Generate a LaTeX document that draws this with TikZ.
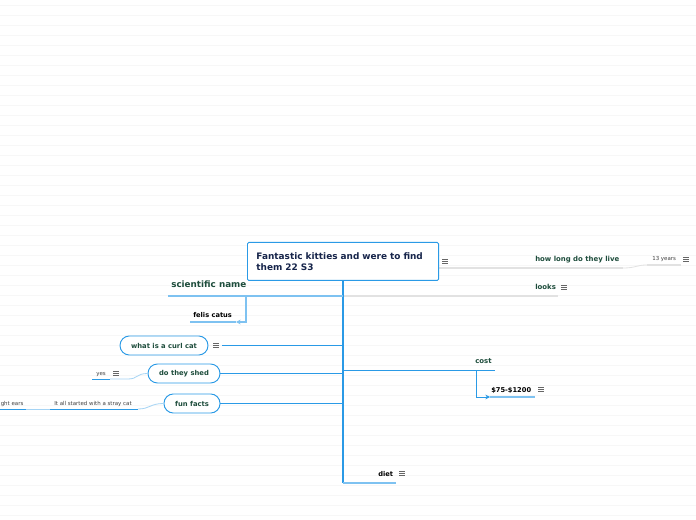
\documentclass[tikz,border=0pt]{standalone}
\usepackage{fontspec}
\setmainfont{DejaVu Sans}
\usetikzlibrary{arrows.meta,positioning,calc}
\definecolor{mmBlue}{HTML}{2A9AE6}
\definecolor{mmLight}{HTML}{7EC2F1}
\definecolor{mmGray}{HTML}{E2E2E2}
\definecolor{mmGreen}{HTML}{1E4D3C}
\definecolor{mmNavy}{HTML}{16244A}
\tikzset{menuicon/.pic={\foreach \k in {-2,0,2} {\draw[black!60, line width=0.45pt] (-2.6,\k) -- (2.6,\k);}}}

\begin{document}
\begin{tikzpicture}[x=0.75pt, y=-0.75pt, every node/.style={inner sep=0pt},
  rootbox/.style={draw=mmBlue, line width=0.7pt, fill=white, rounded corners=1pt, anchor=north west,
    text width=129.8pt, inner xsep=6.75pt, minimum height=28.5pt, align=left,
    font=\fontsize{6.7}{8.25}\selectfont\bfseries, text=mmNavy},
  lbl/.style={anchor=base west, font=\fontsize{5.2}{6}\selectfont\bfseries, text=mmGreen},
  sub/.style={anchor=base west, font=\fontsize{5}{6}\selectfont\bfseries, text=black},
  note/.style={anchor=base west, font=\fontsize{4.1}{5}\selectfont, text=black!75},
  pill/.style={draw=mmBlue, line width=0.7pt, fill=white, rounded corners=7pt, minimum height=14.25pt,
    inner xsep=8.3pt, font=\fontsize{5.1}{6}\selectfont\bfseries, text=mmGreen},
  spine/.style={draw=mmBlue, line width=1.2pt},
  limb/.style={draw=mmBlue, line width=0.6pt},
  twig/.style={draw=mmLight, line width=1.2pt},
  leaf/.style={draw=mmLight!70, line width=0.6pt},
  greyline/.style={draw=mmGray, line width=1.3pt},
  tip/.style={-{Stealth[length=3.5pt,width=3.5pt]}}]
  \useasboundingbox (0,0) rectangle (696,520);
  \fill[white] (0,0) rectangle (696,520);
  \foreach \r in {5,15,...,515} {\draw[black!3, line width=0.6pt] (0,\r) -- (696,\r);}

  % grey branches to the right
  \coordinate (liveR) at (623,268);
  \coordinate (yrsL) at (647,265);
  \coordinate (yrsR) at (681,265);
  \coordinate (looksL) at (343,296);
  \coordinate (looksR) at (558,296);
  \draw[greyline] (438,268) -- (liveR);
  \draw[draw=mmGray, line width=0.6pt] (liveR) .. controls (636,268) and (636,265) .. (yrsL);
  \draw[greyline] (yrsL) -- (yrsR);
  \draw[greyline] (looksL) -- (looksR);

  \node[rootbox] (root) at (247,242) {Fantastic kitties and were to find\\them 22 S3};

  % spine
  \coordinate (spineEnd) at (root.south |- 0,483);
  \coordinate (dietR) at (396,483);
  \draw[spine] (root.south) -- (spineEnd);
  \draw[twig] (spineEnd) -- (dietR);

  % scientific name
  \coordinate (sciL) at (168,296);
  \coordinate (sciDrop) at (246,296);
  \coordinate (felisL) at (190,322);
  \coordinate (felisTip) at (236,322);
  \draw[twig] (sciL) -- (root.south |- sciL);
  \draw[twig] (felisL) -- (felisTip);
  \draw[twig, tip] (sciDrop) |- (felisTip);

  % cost
  \coordinate (costR) at (495,370.5);
  \coordinate (costDrop) at (476,370.5);
  \coordinate (priceTip) at (490,397);
  \coordinate (priceR) at (535,397);
  \draw[limb] (root.south |- costR) -- (costR);
  \draw[twig] (priceTip) -- (priceR);
  \draw[limb, tip] (costDrop) |- (priceTip);

  % pills on the left
  \node[pill] (curl) at (164,345.5) {what is a curl cat};
  \node[pill] (shed) at (184,373.5) {do they shed};
  \node[pill] (fun) at (192,403.5) {fun facts};
  \coordinate (curlMenuR) at (222,345.5);
  \draw[limb] (curlMenuR) -- (root.south |- curlMenuR);
  \draw[limb] (shed.east) -- (root.south |- shed.east);
  \draw[limb] (fun.east) -- (root.south |- fun.east);

  \coordinate (yesL) at (92,379);
  \coordinate (yesR) at (110,379);
  \coordinate (strayL) at (50,409);
  \coordinate (strayR) at (138,409);
  \coordinate (earsR) at (26,409);
  \draw[limb] (yesL) -- (yesR);
  \draw[leaf] (yesR) -- (128,379) .. controls (138,379) and (136,373.5) .. (shed.west);
  \draw[limb] (strayL) -- (strayR);
  \draw[leaf] (strayR) .. controls (150,409) and (150,403.5) .. (fun.west);
  \draw[limb] (0,409) -- (earsR);
  \draw[leaf] (earsR) -- (strayL);

  % texts
  \node[lbl] (live) at (535,262) {how long do they live};
  \node[note] (years) at (652,261) {13 years};
  \node[lbl] (looks) at (535,290) {looks};
  \node[lbl, font=\fontsize{6.6}{7}\selectfont\bfseries] (sci) at (171,288) {scientific name};
  \node[sub] (felis) at (193,318) {felis catus};
  \node[lbl] (cost) at (475,363) {cost};
  \node[sub] (price) at (491,392) {\$75-\$1200};
  \node[sub] (diet) at (378,476) {diet};
  \node[note] (yes) at (96,375) {yes};
  \node[note] (stray) at (54,405) {It all started with a stray cat};
  \node[note] (ears) at (0.5,405) {ght ears};

  \foreach \x/\y in {445/261, 686/259, 564/287, 216/345.5, 116/373, 541/389, 402/473} {
    \pic at (\x,\y) {menuicon};
  }
\end{tikzpicture}
\end{document}
